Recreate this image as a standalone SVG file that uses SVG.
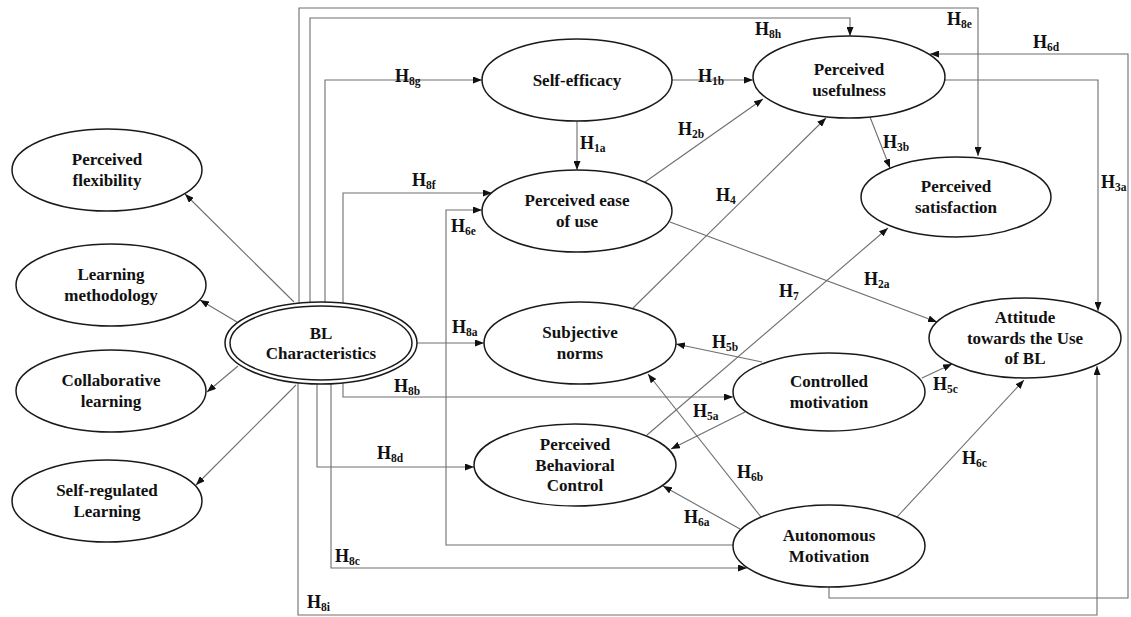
<svg xmlns="http://www.w3.org/2000/svg" width="1131" height="617" viewBox="0 0 1131 617">
<style>
.n{fill:#fff;stroke:#1a1a1a;stroke-width:1.5}
.t{font-family:"Liberation Serif","Times New Roman",serif;font-weight:bold;font-size:17px;fill:#111;text-anchor:middle}
.c{fill:none;stroke:#6e6e6e;stroke-width:1.1}
.a{marker-end:url(#ah)}
.h{font-family:"Liberation Serif","Times New Roman",serif;font-weight:bold;font-size:18px;fill:#111}
.s{font-size:11.5px}
</style>
<defs>
<marker id="ah" markerUnits="userSpaceOnUse" markerWidth="9" markerHeight="7" refX="9" refY="3.5" orient="auto">
<path d="M0,0 L9,3.5 L0,7 z" fill="#111"/>
</marker>
</defs>
<rect width="1131" height="617" fill="#fff"/>
<g id="connectors">
<path class="c a" d="M299,303 V8 H978 V156"/>
<path class="c a" d="M310,302 V18 H850 V36"/>
<path class="c a" d="M325,302 V80 H482"/>
<path class="c a" d="M343,303 V193 H492"/>
<path class="c a" d="M343,383 V397 H733"/>
<path class="c a" d="M317,384 V467 H474"/>
<path class="c a" d="M331,384 V568 H747"/>
<path class="c a" d="M298,383 V615 H1097 V366"/>
<path class="c a" d="M945,80 H1098 V311"/>
<path class="c a" d="M829,587 V598 H1128 V54 H930"/>
<path class="c a" d="M733,545 H446 V210 H482"/>
<path class="c a" d="M417,343 H484"/>
<path class="c a" d="M672,80 H753"/>
<path class="c a" d="M577,121 V170"/>
<path class="c a" d="M645,182 L763,99"/>
<path class="c a" d="M633,308 L826,118"/>
<path class="c a" d="M870,117 L890,168"/>
<path class="c a" d="M670,222 L937,322"/>
<path class="c a" d="M647,435 L888,228"/>
<path class="c a" d="M762,362 L676,344"/>
<path class="c a" d="M745,412 L671,449"/>
<path class="c a" d="M922,378 L952,364"/>
<path class="c a" d="M897,517 L1024,380"/>
<path class="c a" d="M761,517 L648,374"/>
<path class="c a" d="M740,529 L663,486"/>
<path class="c a" d="M294,302 L185,194"/>
<path class="c a" d="M237,322 L200,300"/>
<path class="c a" d="M238,366 L207,392"/>
<path class="c a" d="M296,385 L196,485"/>
</g>
<g id="labels">
<text class="h" x="395" y="82">H<tspan class="s" dy="3">8g</tspan></text>
<text class="h" x="698" y="82">H<tspan class="s" dy="3">1b</tspan></text>
<text class="h" x="755" y="35">H<tspan class="s" dy="3">8h</tspan></text>
<text class="h" x="947" y="25">H<tspan class="s" dy="3">8e</tspan></text>
<text class="h" x="1033" y="48">H<tspan class="s" dy="3">6d</tspan></text>
<text class="h" x="580" y="149">H<tspan class="s" dy="3">1a</tspan></text>
<text class="h" x="678" y="135">H<tspan class="s" dy="3">2b</tspan></text>
<text class="h" x="412" y="186">H<tspan class="s" dy="3">8f</tspan></text>
<text class="h" x="451" y="232">H<tspan class="s" dy="3">6e</tspan></text>
<text class="h" x="716" y="201">H<tspan class="s" dy="3">4</tspan></text>
<text class="h" x="883" y="148">H<tspan class="s" dy="3">3b</tspan></text>
<text class="h" x="1101" y="188">H<tspan class="s" dy="3">3a</tspan></text>
<text class="h" x="864" y="285">H<tspan class="s" dy="3">2a</tspan></text>
<text class="h" x="779" y="297">H<tspan class="s" dy="3">7</tspan></text>
<text class="h" x="452" y="333">H<tspan class="s" dy="3">8a</tspan></text>
<text class="h" x="712" y="348">H<tspan class="s" dy="3">5b</tspan></text>
<text class="h" x="394" y="392">H<tspan class="s" dy="3">8b</tspan></text>
<text class="h" x="693" y="417">H<tspan class="s" dy="3">5a</tspan></text>
<text class="h" x="933" y="390">H<tspan class="s" dy="3">5c</tspan></text>
<text class="h" x="377" y="459">H<tspan class="s" dy="3">8d</tspan></text>
<text class="h" x="737" y="478">H<tspan class="s" dy="3">6b</tspan></text>
<text class="h" x="962" y="464">H<tspan class="s" dy="3">6c</tspan></text>
<text class="h" x="684" y="523">H<tspan class="s" dy="3">6a</tspan></text>
<text class="h" x="335" y="562">H<tspan class="s" dy="3">8c</tspan></text>
<text class="h" x="307" y="608">H<tspan class="s" dy="3">8i</tspan></text>
</g>
<g id="perceived-flexibility">
<ellipse class="n" cx="107" cy="170" rx="95" ry="41"/>
<text class="t" x="107" y="165">Perceived</text>
<text class="t" x="107" y="185.5">flexibility</text>
</g>
<g id="learning-methodology">
<ellipse class="n" cx="111" cy="285" rx="95" ry="41"/>
<text class="t" x="111" y="280">Learning</text>
<text class="t" x="111" y="300.5">methodology</text>
</g>
<g id="collaborative-learning">
<ellipse class="n" cx="111" cy="391" rx="95" ry="41"/>
<text class="t" x="111" y="386">Collaborative</text>
<text class="t" x="111" y="406.5">learning</text>
</g>
<g id="self-regulated-learning">
<ellipse class="n" cx="107" cy="501" rx="95" ry="41"/>
<text class="t" x="107" y="496">Self-regulated</text>
<text class="t" x="107" y="516.5">Learning</text>
</g>
<g id="bl-characteristics">
<ellipse class="n" cx="321" cy="343" rx="96" ry="41"/>
<ellipse class="n" cx="321" cy="343" rx="91" ry="37"/>
<text class="t" x="321" y="338.5">BL</text>
<text class="t" x="321" y="359">Characteristics</text>
</g>
<g id="self-efficacy">
<ellipse class="n" cx="577" cy="80" rx="95" ry="41"/>
<text class="t" x="577" y="86">Self-efficacy</text>
</g>
<g id="perceived-usefulness">
<ellipse class="n" cx="849" cy="77" rx="96" ry="41"/>
<text class="t" x="849" y="75">Perceived</text>
<text class="t" x="849" y="95.5">usefulness</text>
</g>
<g id="perceived-ease-of-use">
<ellipse class="n" cx="577" cy="211" rx="95" ry="41"/>
<text class="t" x="577" y="206">Perceived ease</text>
<text class="t" x="577" y="226.5">of use</text>
</g>
<g id="perceived-satisfaction">
<ellipse class="n" cx="956" cy="197" rx="95" ry="40"/>
<text class="t" x="956" y="192">Perceived</text>
<text class="t" x="956" y="212.5">satisfaction</text>
</g>
<g id="subjective-norms">
<ellipse class="n" cx="580" cy="343" rx="96" ry="41"/>
<text class="t" x="580" y="338">Subjective</text>
<text class="t" x="580" y="358.5">norms</text>
</g>
<g id="controlled-motivation">
<ellipse class="n" cx="829" cy="392" rx="96" ry="39"/>
<text class="t" x="829" y="387">Controlled</text>
<text class="t" x="829" y="407.5">motivation</text>
</g>
<g id="perceived-behavioral-control">
<ellipse class="n" cx="575" cy="465" rx="101" ry="41"/>
<text class="t" x="575" y="450">Perceived</text>
<text class="t" x="575" y="470.5">Behavioral</text>
<text class="t" x="575" y="491">Control</text>
</g>
<g id="autonomous-motivation">
<ellipse class="n" cx="829" cy="546" rx="96" ry="41"/>
<text class="t" x="829" y="541">Autonomous</text>
<text class="t" x="829" y="561.5">Motivation</text>
</g>
<g id="attitude">
<ellipse class="n" cx="1025" cy="338" rx="96" ry="40"/>
<text class="t" x="1025" y="323">Attitude</text>
<text class="t" x="1025" y="343.5">towards the Use</text>
<text class="t" x="1025" y="364">of BL</text>
</g>
</svg>
